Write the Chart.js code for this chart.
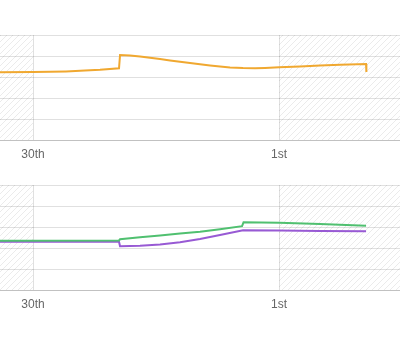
<!DOCTYPE html>
<html>
<head>
<meta charset="utf-8">
<script src="https://cdn.jsdelivr.net/npm/chart.js@4/dist/chart.umd.min.js"></script>
<style>
  html, body { margin: 0; padding: 0; background: #fff; }
  .wrap { position: absolute; left: 0; width: 400px; }
  #top { top: 0; height: 170px; }
  #bottom { top: 170px; height: 150px; }
</style>
</head>
<body>
<div class="wrap" id="top"><canvas id="chartTop"></canvas></div>
<div class="wrap" id="bottom"><canvas id="chartBottom"></canvas></div>
<script>
// x values are hours after the start of the 30th
const tickHours = [0, 24];
const tickLabels = ['30th', '1st'];

const orangeHours = [-3.22, 0, 1.66, 3.22, 5.07, 6.54, 8.39, 8.49, 9.46, 10.44, 11.41, 12.39, 13.37, 14.34,
    15.32, 16.29, 17.27, 18.24, 19.22, 20.49, 21.66, 22.63, 24, 26.05, 28, 29.95, 32.49, 32.52];
const orangeValues = [3.229, 3.238, 3.248, 3.267, 3.305, 3.343, 3.414, 4.048, 4.019, 3.971, 3.914, 3.852, 3.790, 3.724,
    3.662, 3.605, 3.548, 3.500, 3.457, 3.424, 3.419, 3.433, 3.462, 3.505, 3.543, 3.581, 3.619, 3.238];

const greenHours = [-3.22, 8.39, 8.49, 10.44, 12.39, 14.34, 16.29, 18.24, 20.39, 20.54, 24, 28, 32.49];
const greenValues = [2.348, 2.357, 2.414, 2.510, 2.595, 2.686, 2.776, 2.895, 3.038, 3.224, 3.200, 3.143, 3.062];

const purpleHours = [-3.22, 8.39, 8.49, 10.44, 12.39, 14.34, 16.29, 18.24, 20.49, 24, 28, 32.49];
const purpleValues = [2.300, 2.300, 2.081, 2.110, 2.171, 2.271, 2.429, 2.619, 2.843, 2.829, 2.810, 2.795];

function toPoints(xs, ys) {
    return xs.map((x, i) => ({ x, y: ys[i] }));
}

function makeHatch() {
    const c = document.createElement('canvas');
    c.width = 6;
    c.height = 6;
    const g = c.getContext('2d');
    g.strokeStyle = 'rgba(0,0,0,0.08)';
    g.lineWidth = 1;
    g.beginPath();
    g.moveTo(0, 6);
    g.lineTo(6, 0);
    g.moveTo(-1, 1);
    g.lineTo(1, -1);
    g.moveTo(5, 7);
    g.lineTo(7, 5);
    g.stroke();
    return g.createPattern(c, 'repeat');
}

const hatchPlugin = {
    id: 'hatch',
    beforeDraw(chart) {
        const { ctx, chartArea, scales } = chart;
        const x0 = scales.x.getPixelForValue(tickHours[0]);
        const x1 = scales.x.getPixelForValue(tickHours[1]);
        ctx.save();
        ctx.fillStyle = makeHatch();
        ctx.fillRect(chartArea.left, chartArea.top, x0 - chartArea.left, chartArea.bottom - chartArea.top);
        ctx.fillRect(x1, chartArea.top, chartArea.right - x1, chartArea.bottom - chartArea.top);
        ctx.restore();
    },
};

function createLineChart(id, datasets, padTop) {
    new Chart(document.getElementById(id), {
        type: 'line',
        data: { datasets },
        options: {
            responsive: true,
            maintainAspectRatio: false,
            animation: false,
            layout: { padding: { top: padTop, left: 0, right: 0, bottom: 0 } },
            plugins: { legend: { display: false }, tooltip: { enabled: false } },
            elements: {
                point: { radius: 0 },
                line: { borderWidth: 2, tension: 0 },
            },
            scales: {
                x: {
                    type: 'linear',
                    min: -3.22,
                    max: 35.8,
                    afterBuildTicks(scale) {
                        scale.ticks = tickHours.map((v) => ({ value: v }));
                    },
                    afterFit(scale) {
                        scale.height = 30;
                    },
                    grid: { color: 'rgba(0,0,0,0.12)', drawTicks: false },
                    border: { color: 'rgba(0,0,0,0.14)' },
                    ticks: {
                        padding: 7,
                        color: '#666',
                        font: { family: 'Liberation Sans, Arial, sans-serif', size: 12 },
                        maxRotation: 0,
                        callback: (v) => tickLabels[tickHours.indexOf(v)],
                    },
                },
                y: {
                    min: 0,
                    max: 5,
                    ticks: { display: false, stepSize: 1 },
                    grid: { color: 'rgba(0,0,0,0.12)', drawTicks: false },
                    border: { display: false },
                },
            },
        },
        plugins: [hatchPlugin],
    });
}

createLineChart('chartTop', [
    { data: toPoints(orangeHours, orangeValues), borderColor: 'rgb(240,168,48)' },
], 35);

createLineChart('chartBottom', [
    { data: toPoints(greenHours, greenValues), borderColor: 'rgb(80,192,112)' },
    { data: toPoints(purpleHours, purpleValues), borderColor: 'rgb(152,90,212)' },
], 15);
</script>
</body>
</html>
